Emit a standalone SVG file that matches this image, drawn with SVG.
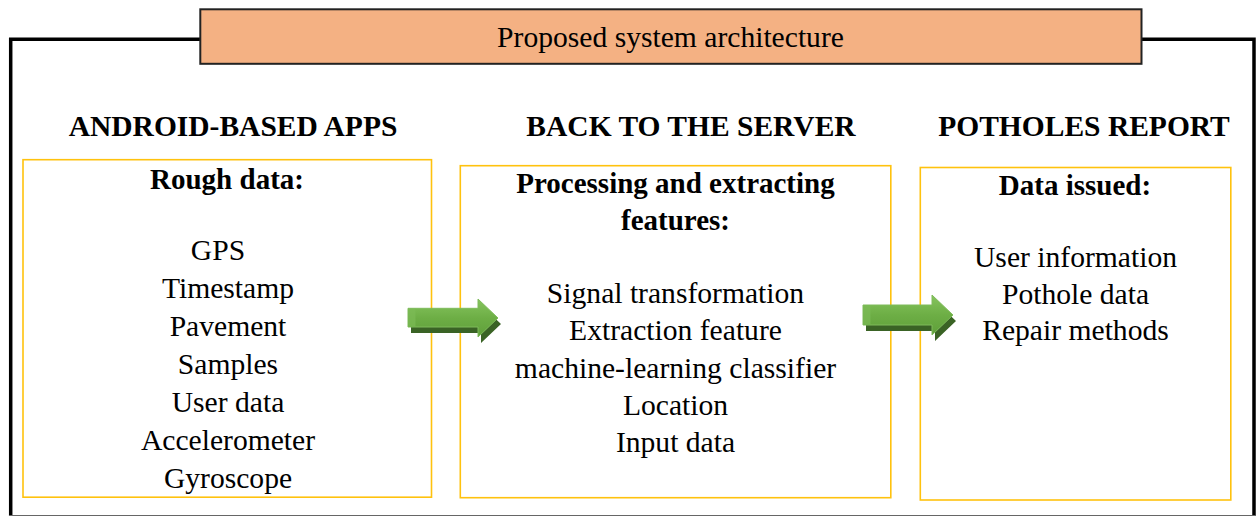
<svg xmlns="http://www.w3.org/2000/svg" width="1258" height="516" viewBox="0 0 1258 516">
  <style>
    .hd { font-family: "Liberation Serif", "Times New Roman", serif; font-weight: bold; font-size: 29.5px; fill: #000; text-anchor: middle; }
    .bt { font-family: "Liberation Serif", "Times New Roman", serif; font-weight: bold; font-size: 29px; fill: #000; text-anchor: middle; }
    .tx { font-family: "Liberation Serif", "Times New Roman", serif; font-size: 29.6px; fill: #000; text-anchor: middle; }
    .box { fill: #fff; stroke: #FFC20E; stroke-width: 1.6; }
    .shadow { fill: #3A6325; }
    .arrow { fill: url(#gArrow); stroke: #7EBB5A; stroke-width: 1; }
  </style>
  <defs>
    <linearGradient id="gArrow" x1="0" y1="0" x2="0" y2="1">
      <stop offset="0" stop-color="#86C45E"/>
      <stop offset="0.5" stop-color="#6DAE45"/>
      <stop offset="1" stop-color="#5F9F3A"/>
    </linearGradient>
  </defs>
  <rect x="0" y="0" width="1258" height="516" fill="#fff"/>

  <g id="frame">
    <path d="M200,39.3 H10.7 V516 M1254,516 V39.3 H1141" fill="none" stroke="#000" stroke-width="3.5"/>
    <line x1="9" y1="515.5" x2="1256" y2="515.5" stroke="#666" stroke-width="1.2"/>
  </g>

  <g id="title">
    <rect x="200.3" y="9.3" width="941.2" height="54.5" fill="#F4B183" stroke="#222" stroke-width="2"/>
    <text class="tx" x="670.5" y="47">Proposed system architecture</text>
  </g>

  <g id="android">
    <text class="hd" x="233" y="136">ANDROID-BASED APPS</text>
    <rect class="box" x="23" y="159.7" width="408.5" height="337.5"/>
    <text class="bt" x="227" y="188.5">Rough data:</text>
    <text class="tx" x="218" y="260">GPS</text>
    <text class="tx" x="228" y="298">Timestamp</text>
    <text class="tx" x="228" y="336">Pavement</text>
    <text class="tx" x="228" y="374">Samples</text>
    <text class="tx" x="228" y="412">User data</text>
    <text class="tx" x="228" y="450">Accelerometer</text>
    <text class="tx" x="228" y="488">Gyroscope</text>
  </g>

  <g id="server">
    <text class="hd" x="691" y="136">BACK TO THE SERVER</text>
    <rect class="box" x="460.3" y="165.7" width="430.5" height="332"/>
    <text class="bt" x="675.5" y="193.3">Processing and extracting</text>
    <text class="bt" x="675.5" y="230">features:</text>
    <text class="tx" x="675.5" y="303">Signal transformation</text>
    <text class="tx" x="675.5" y="340">Extraction feature</text>
    <text class="tx" x="675.5" y="378">machine-learning classifier</text>
    <text class="tx" x="675.5" y="415">Location</text>
    <text class="tx" x="675.5" y="452">Input data</text>
  </g>

  <g id="report">
    <text class="hd" x="1084" y="136">POTHOLES REPORT</text>
    <rect class="box" x="920.3" y="167.5" width="310.5" height="332.5"/>
    <text class="bt" x="1075" y="195">Data issued:</text>
    <text class="tx" x="1075.5" y="267">User information</text>
    <text class="tx" x="1075.5" y="303.5">Pothole data</text>
    <text class="tx" x="1075.5" y="340">Repair methods</text>
  </g>

  <g id="connectors">
    <g id="arrow1">
      <polygon class="shadow" points="411,314 481,314 481,305 501,324 481,343 481,333 411,333"/>
      <polygon class="arrow" points="408,308.3 478,308.3 478,299 498,318 478,337 478,327 408,327"/>
      <rect x="408.5" y="308.8" width="7" height="17.7" fill="#7CBA55" opacity="0.7"/>
    </g>
    <g id="arrow2">
      <polygon class="shadow" points="866,311 935,311 935,301 956,321 935,341 935,331 866,331"/>
      <polygon class="arrow" points="863,305 932,305 932,295 953,315 932,335 932,325 863,325"/>
      <rect x="863.5" y="305.5" width="7" height="19" fill="#7CBA55" opacity="0.7"/>
    </g>
  </g>
</svg>
